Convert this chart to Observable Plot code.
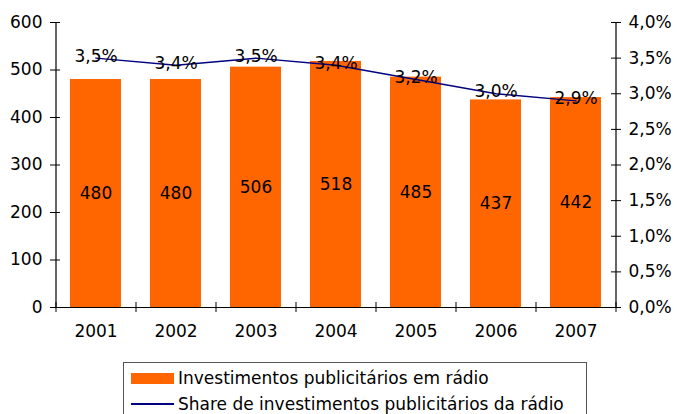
<!DOCTYPE html>
<html><head><meta charset="utf-8">
<script src="https://cdn.jsdelivr.net/npm/d3@7"></script>
<script src="https://cdn.jsdelivr.net/npm/@observablehq/plot@0.6"></script>
<style>
body{margin:0;background:#fff;font-family:"DejaVu Sans",Verdana,sans-serif;}
#legend{margin-left:123px;margin-top:7px;width:464px;border:1px solid #555;border-bottom:none;height:60px;font-size:17px;color:#000;box-sizing:border-box;}
.row{display:flex;align-items:center;height:26px;}
.sw{width:43px;margin-left:7px;margin-right:4px;}
</style></head><body>
<div id="chart"></div>
<div id="legend">
 <div class="row" style="margin-top:2px"><div class="sw" style="height:11px;background:#FF6600"></div><span>Investimentos publicitários em rádio</span></div>
 <div class="row"><div class="sw" style="height:0;border-top:2px solid #000080"></div><span>Share de investimentos publicitários da rádio</span></div>
</div>
<script>
const years = ["2001","2002","2003","2004","2005","2006","2007"];
const investimentos = [480,480,506,518,485,437,442];
const share = [3.5,3.4,3.5,3.4,3.2,3.0,2.9];
const leftTicks = [0,100,200,300,400,500,600];
const rightTicks = [0,0.5,1.0,1.5,2.0,2.5,3.0,3.5,4.0];
const K = 150; // 4,0% <-> 600

const data = years.map((y,i)=>({year:y, v:investimentos[i], s:share[i]}));
const fmtPct = d => (d/K).toFixed(1).replace(".",",")+"%";
const font = "DejaVu Sans";
const FS = 17;

const plot = Plot.plot({
  width: 677, height: 355,
  marginLeft: 55, marginRight: 62, marginTop: 22, marginBottom: 48,
  style:{fontFamily:font, fontSize:FS+"px", color:"#000", background:"#fff"},
  x:{domain:years, paddingInner:0.3625, paddingOuter:0.18125, label:null},
  y:{domain:[0,600], label:null},
  marks:[
    Plot.barY(data,{x:"year", y:"v", fill:"#FF6600"}),
    Plot.text(data,{x:"year", y:d=>d.v/2, text:d=>String(d.v), fontSize:FS, fill:"#000"}),
    Plot.lineY(data,{x:"year", y:d=>d.s*K, stroke:"#000080", strokeWidth:1.5}),
    Plot.text(data,{x:"year", y:d=>d.s*K, text:d=>d.s.toFixed(1).replace(".",",")+"%", fontSize:FS, dy:-2, fill:"#000"}),
    Plot.ruleY([0],{stroke:"#000", strokeWidth:1.2}),
    Plot.ruleX([years[0]],{x:d=>d, y1:leftTicks[0], y2:leftTicks[leftTicks.length-1], dx:-40, stroke:"#000", strokeWidth:1.2}),
    Plot.ruleX([years[years.length-1]],{x:d=>d, y1:leftTicks[0], y2:leftTicks[leftTicks.length-1], dx:40, stroke:"#000", strokeWidth:1.2}),
    Plot.axisY({anchor:"left", ticks:leftTicks, tickSize:10, dx:5, tickPadding:8, label:null, fontSize:FS}),
    Plot.axisY({anchor:"right", ticks:rightTicks.map(t=>t*K), tickFormat:fmtPct, tickSize:10, dx:-5, tickPadding:8, label:null, fontSize:FS}),
    Plot.ruleX(years,{x:d=>d, dx:-40, insetTop:280, insetBottom:-5, stroke:"#000"}),
    Plot.ruleX([years[years.length-1]],{x:d=>d, dx:40, insetTop:280, insetBottom:-5, stroke:"#000"}),
    Plot.axisX({tickSize:0, tickPadding:17, label:null, fontSize:FS})
  ]
});
document.getElementById("chart").appendChild(plot);
</script>
</body></html>
